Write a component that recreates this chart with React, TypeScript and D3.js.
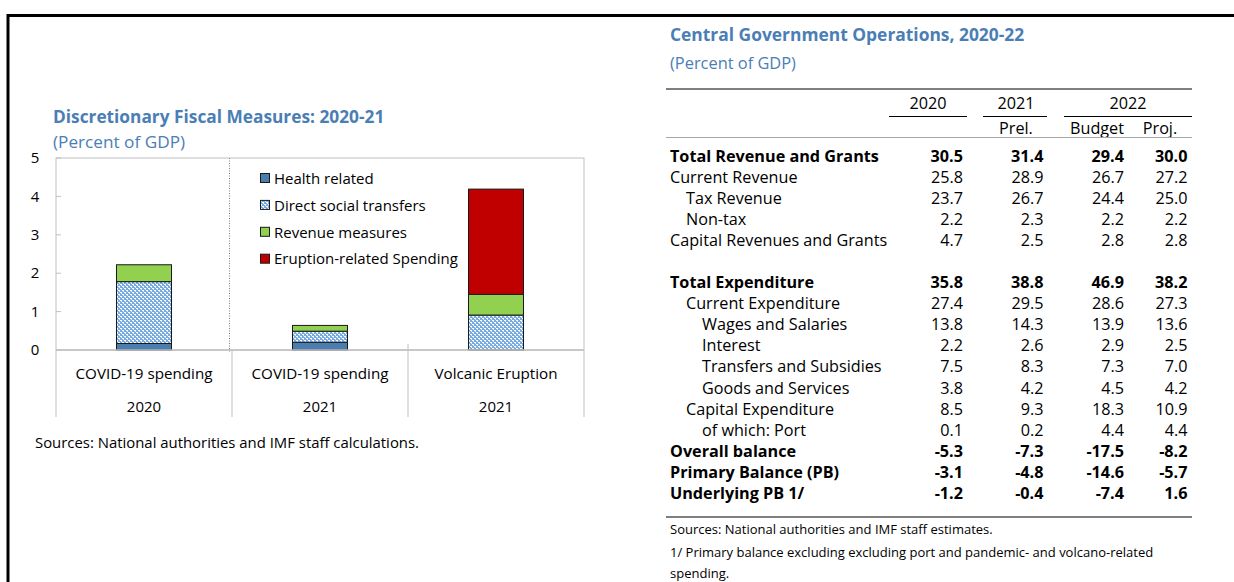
import React from "react";
import * as d3 from "d3";

// ---------- Left chart data ----------
const categories = ["COVID-19 spending", "COVID-19 spending", "Volcanic Eruption"];
const categoryYears = ["2020", "2021", "2021"];
const seriesNames = ["Health related", "Direct social transfers", "Revenue measures", "Eruption-related Spending"];
const healthRelated = [0.17, 0.2, 0];
const directSocialTransfers = [1.61, 0.29, 0.91];
const revenueMeasures = [0.44, 0.15, 0.54];
const eruptionSpending = [0, 0, 2.74];
const yTicks = [0, 1, 2, 3, 4, 5];

// ---------- Right table data ----------
const headerYears = ["2020", "2021", "2022"];
const headerSub = ["", "Prel.", "Budget", "Proj."];
const rowLabels = [
  "Total Revenue and Grants",
  "Current Revenue",
  "Tax Revenue",
  "Non-tax",
  "Capital Revenues and Grants",
  "",
  "Total Expenditure",
  "Current Expenditure",
  "Wages and Salaries",
  "Interest",
  "Transfers and Subsidies",
  "Goods and Services",
  "Capital Expenditure",
  "of which: Port",
  "Overall balance",
  "Primary Balance (PB)",
  "Underlying PB 1/",
];
const rowIndent = [0, 0, 1, 1, 0, 0, 0, 1, 2, 2, 2, 2, 1, 2, 0, 0, 0];
const rowBold = [1, 0, 0, 0, 0, 0, 1, 0, 0, 0, 0, 0, 0, 0, 1, 1, 1];
const col2020 = ["30.5", "25.8", "23.7", "2.2", "4.7", "", "35.8", "27.4", "13.8", "2.2", "7.5", "3.8", "8.5", "0.1", "-5.3", "-3.1", "-1.2"];
const col2021 = ["31.4", "28.9", "26.7", "2.3", "2.5", "", "38.8", "29.5", "14.3", "2.6", "8.3", "4.2", "9.3", "0.2", "-7.3", "-4.8", "-0.4"];
const colBudget = ["29.4", "26.7", "24.4", "2.2", "2.8", "", "46.9", "28.6", "13.9", "2.9", "7.3", "4.5", "18.3", "4.4", "-17.5", "-14.6", "-7.4"];
const colProj = ["30.0", "27.2", "25.0", "2.2", "2.8", "", "38.2", "27.3", "13.6", "2.5", "7.0", "4.2", "10.9", "4.4", "-8.2", "-5.7", "1.6"];

const FONT = "'Open Sans', 'Noto Sans', sans-serif";
const BLUE_TITLE = "#4a7eb5";
const COLORS = ["#4a7db0", "url(#dotPattern)", "#92d050", "#c00000"];

export default function App() {
  // ---- chart scales ----
  const plotLeft = 56, plotRight = 584, plotTop = 158, plotBottom = 350;
  const idx = categories.map((_, i) => String(i));
  const bandX = d3.scaleBand<string>().domain(idx).range([plotLeft, plotRight]).padding(0);
  const barX = d3
    .scaleBand<string>()
    .domain(idx)
    .range([plotLeft, plotRight])
    .paddingInner(0.6875)
    .paddingOuter(0.34375);
  const y = d3.scaleLinear().domain([0, 5]).range([plotBottom, plotTop]);

  const stackData = idx.map((k, i) => ({
    key: k,
    s0: healthRelated[i],
    s1: directSocialTransfers[i],
    s2: revenueMeasures[i],
    s3: eruptionSpending[i],
  }));
  const stacked = d3.stack<any>().keys(["s0", "s1", "s2", "s3"])(stackData);

  // ---- table scales ----
  const rowY = d3.scaleLinear().domain([0, 16]).range([156, 493.3]);
  const colRight = [963, 1043.5, 1124, 1187.5];
  const cols = [col2020, col2021, colBudget, colProj];
  const indentX = [670, 686, 702];
  const TF = 16.2;
  const FN = 13;

  return (
    <div>
      <style>{`body{margin:0;}`}</style>
      <svg width={1234} height={582} style={{ display: "block", fontFamily: FONT }}>
        <defs>
          <pattern id="dotPattern" width={4} height={4} patternUnits="userSpaceOnUse">
            <rect width={4} height={4} fill="#78ace0" />
            <rect x={0} y={0} width={2} height={1} fill="#ffffff" />
            <rect x={2} y={2} width={2} height={1} fill="#ffffff" />
            <rect x={1} y={1} width={1} height={1} fill="#d6e7f6" />
            <rect x={3} y={3} width={1} height={1} fill="#d6e7f6" />
          </pattern>
        </defs>
        <rect width={1234} height={582} fill="#ffffff" />

        {/* outer black border */}
        <line x1={7} x2={1234} y1={15.5} y2={15.5} stroke="#000" strokeWidth={3} />
        <line x1={8} x2={8} y1={14} y2={582} stroke="#000" strokeWidth={3} />

        {/* ---------- LEFT CHART ---------- */}
        <text x={53} y={117} dy="0.35em" fill={BLUE_TITLE} fontWeight="bold" fontSize={17.3}>
          Discretionary Fiscal Measures: 2020-21
        </text>
        <text x={53} y={142} dy="0.35em" fill={BLUE_TITLE} fontSize={17.2}>
          (Percent of GDP)
        </text>

        {/* plot frame */}
        <rect x={plotLeft} y={plotTop} width={plotRight - plotLeft} height={plotBottom - plotTop} fill="none" stroke="#c0c0c0" strokeWidth={1} />
        {/* y ticks */}
        {yTicks.map((t) => (
          <g key={t}>
            <line x1={plotLeft} x2={plotLeft + 5} y1={y(t)} y2={y(t)} stroke="#c0c0c0" />
            <text x={35} y={y(t)} dy="0.35em" textAnchor="middle" fontSize={15} fill="#000">
              {t}
            </text>
          </g>
        ))}
        {/* dotted separator */}
        <line x1={229.5} x2={229.5} y1={plotTop} y2={plotBottom + 3} stroke="#808080" strokeDasharray="1,1.5" />

        {/* bars */}
        {stacked.map((layer, li) => (
          <g key={li}>
            {layer.map((d, i) => {
              const h = y(d[0]) - y(d[1]);
              if (h <= 0.01) return null;
              return (
                <rect
                  key={i}
                  x={barX(idx[i])}
                  y={y(d[1])}
                  width={barX.bandwidth()}
                  height={h}
                  fill={COLORS[li]}
                  stroke="#1a1a1a"
                  strokeWidth={1}
                />
              );
            })}
          </g>
        ))}
        {/* zero axis line */}
        <line x1={plotLeft} x2={plotRight} y1={plotBottom} y2={plotBottom} stroke="#c0c0c0" strokeWidth={1.5} />

        {/* category separators under axis */}
        {[...idx.map((k) => bandX(k) as number), plotRight].map((xv, i) => (
          <line
            key={i}
            x1={xv}
            x2={xv}
            y1={i === 2 ? plotBottom - 6 : plotBottom}
            y2={417}
            stroke="#c0c0c0"
            strokeWidth={1}
          />
        ))}
        {idx.map((k, i) => (
          <g key={k}>
            <text x={(bandX(k) as number) + bandX.bandwidth() / 2} y={374} dy="0.35em" textAnchor="middle" fontSize={15.2} fill="#000">
              {categories[i]}
            </text>
            <text x={(bandX(k) as number) + bandX.bandwidth() / 2} y={407} dy="0.35em" textAnchor="middle" fontSize={15} fill="#000">
              {categoryYears[i]}
            </text>
          </g>
        ))}

        {/* legend */}
        {seriesNames.map((n, i) => (
          <g key={n}>
            <rect x={260.5} y={178.5 + i * 26.9 - 5} width={9} height={9} fill={COLORS[i]} stroke="#1a1a1a" strokeWidth={1} />
            <text x={274} y={178.5 + i * 26.9} dy="0.35em" fontSize={15} fill="#000">
              {n}
            </text>
          </g>
        ))}

        <text x={35} y={443} dy="0.35em" fontSize={14.9} fill="#000">
          Sources: National authorities and IMF staff calculations.
        </text>

        {/* ---------- RIGHT TABLE ---------- */}
        <text x={670} y={35} dy="0.35em" fill={BLUE_TITLE} fontWeight="bold" fontSize={17.4}>
          Central Government Operations, 2020-22
        </text>
        <text x={670} y={63} dy="0.35em" fill={BLUE_TITLE} fontSize={16.4}>
          (Percent of GDP)
        </text>

        <line x1={666} x2={1192} y1={89} y2={89} stroke="#7f7f7f" strokeWidth={2} />
        {/* header years */}
        <text x={928} y={103} dy="0.35em" textAnchor="middle" fontSize={TF}>{headerYears[0]}</text>
        <text x={1016} y={103} dy="0.35em" textAnchor="middle" fontSize={TF}>{headerYears[1]}</text>
        <text x={1128} y={103} dy="0.35em" textAnchor="middle" fontSize={TF}>{headerYears[2]}</text>
        <line x1={889} x2={967} y1={116.5} y2={116.5} stroke="#000" strokeWidth={1} />
        <line x1={983} x2={1047} y1={116.5} y2={116.5} stroke="#000" strokeWidth={1} />
        <line x1={1064} x2={1192} y1={116.5} y2={116.5} stroke="#000" strokeWidth={1} />
        <text x={1016} y={128} dy="0.35em" textAnchor="middle" fontSize={TF}>{headerSub[1]}</text>
        <text x={1097} y={128} dy="0.35em" textAnchor="middle" fontSize={TF}>{headerSub[2]}</text>
        <text x={1160} y={128} dy="0.35em" textAnchor="middle" fontSize={TF}>{headerSub[3]}</text>
        <line x1={666} x2={1192} y1={137.5} y2={137.5} stroke="#a6a6a6" strokeWidth={1} />

        {rowLabels.map((lab, r) => (
          <g key={r} fontWeight={rowBold[r] ? "bold" : "normal"}>
            <text x={indentX[rowIndent[r]]} y={rowY(r)} dy="0.35em" fontSize={TF} fill="#000">
              {lab}
            </text>
            {cols.map((c, ci) => (
              <text key={ci} x={colRight[ci]} y={rowY(r)} dy="0.35em" textAnchor="end" fontSize={TF} fill="#000">
                {c[r]}
              </text>
            ))}
          </g>
        ))}

        <line x1={666} x2={1192} y1={517} y2={517} stroke="#7f7f7f" strokeWidth={2} />
        <text x={670} y={529} dy="0.35em" fontSize={FN} fill="#000">
          Sources: National authorities and IMF staff estimates.
        </text>
        <text x={670} y={552.5} dy="0.35em" fontSize={FN} fill="#000">
          1/ Primary balance excluding excluding port and pandemic- and volcano-related
        </text>
        <text x={670} y={573.5} dy="0.35em" fontSize={FN} fill="#000">
          spending.
        </text>
      </svg>
    </div>
  );
}
